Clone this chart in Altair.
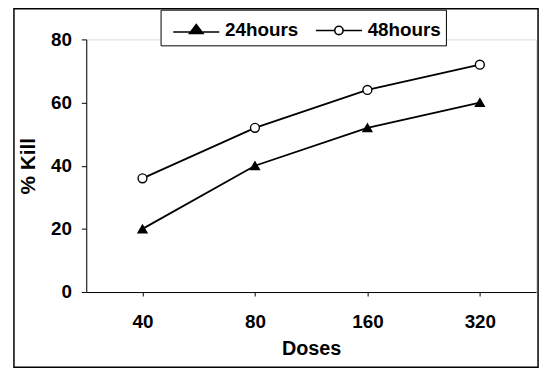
import altair as alt
import pandas as pd

doses = ["40", "80", "160", "320"]
kill_24 = [20, 40, 52, 60]
kill_48 = [36, 52, 64, 72]
series_names = ["24hours", "48hours"]

rows = []
for d, v in zip(doses, kill_24):
    rows.append({"Doses": d, "Kill": v, "series": series_names[0]})
for d, v in zip(doses, kill_48):
    rows.append({"Doses": d, "Kill": v, "series": series_names[1]})
df = pd.DataFrame(rows)

FONT = "Liberation Sans"

x_enc = alt.X("Doses:O", sort=doses, scale=alt.Scale(type="point", padding=0.5),
              axis=alt.Axis(title="Doses", labelAngle=0, tickSize=4, labelPadding=17,
                            titlePadding=7, grid=False, domainColor="black", tickColor="black",
                            labelFont=FONT, labelFontSize=19, labelFontWeight="bold",
                            labelColor="black", titleFont=FONT, titleFontSize=20,
                            titleFontWeight="bold", titleColor="black"))
y_enc = alt.Y("Kill:Q", scale=alt.Scale(domain=[0, 80]),
              axis=alt.Axis(title="% Kill", values=[0, 20, 40, 60, 80], tickSize=5,
                            labelPadding=10, titlePadding=12, grid=False,
                            domainColor="black", tickColor="black",
                            labelFont=FONT, labelFontSize=19, labelFontWeight="bold",
                            labelColor="black", titleFont=FONT, titleFontSize=21,
                            titleFontWeight="bold", titleColor="black"))

base = alt.Chart(df)

lines = base.mark_line(color="black", strokeWidth=1.8).encode(
    x=x_enc, y=y_enc, detail="series:N")

points = base.mark_point(filled=True, stroke="black", strokeWidth=1.4, size=80, opacity=1).encode(
    x=x_enc, y=y_enc,
    shape=alt.Shape("series:N", scale=alt.Scale(domain=series_names, range=["triangle-up", "circle"]), legend=None),
    fill=alt.Fill("series:N", scale=alt.Scale(domain=series_names, range=["black", "white"]), legend=None),
)

tri_path = "M-1.55,0.1H1.55M0,-0.4L0.45,0.2H-0.45Z"
circ_path = ("M-1.55,0H-0.28M0.28,0H1.55M-0.28,0A0.28,0.28 0 1,0 0.28,0"
             "A0.28,0.28 0 1,0 -0.28,0Z")

legend = alt.Legend(title=None, orient="none", legendX=75, legendY=-30, direction="horizontal",
                    strokeColor="black", fillColor="white", padding=5,
                    symbolSize=900, symbolStrokeWidth=1.6,
                    symbolOpacity=1, symbolOffset=15, labelOffset=13, columnPadding=10,
                    labelFont=FONT, labelFontSize=19, labelFontWeight="bold", labelColor="black")

legend_layer = base.mark_point(filled=True, strokeWidth=1.6, opacity=0).encode(
    x=x_enc, y=y_enc,
    shape=alt.Shape("series:N", scale=alt.Scale(domain=series_names, range=[tri_path, circ_path]), legend=legend),
    fill=alt.Fill("series:N", scale=alt.Scale(domain=series_names, range=["black", "white"]), legend=legend),
    stroke=alt.Stroke("series:N", scale=alt.Scale(domain=series_names, range=["black", "black"]), legend=legend),
)

border = alt.Chart(pd.DataFrame({"a": [0]})).mark_rect(
    fill=None, stroke="black", strokeWidth=1.5).encode(
    x=alt.value(-73), x2=alt.value(456), y=alt.value(-31), y2=alt.value(331))

chart = alt.layer(border, lines, points, legend_layer).resolve_scale(
    shape="independent", fill="independent", stroke="independent"
).properties(
    width=454, height=255,
    autosize=alt.AutoSizeParams(type="none"),
    padding={"left": 79, "top": 30, "right": 8, "bottom": 78},
).configure_view(stroke=None).configure(background="white")

chart.save("out.html", embed_options={"renderer": "svg", "actions": False})
